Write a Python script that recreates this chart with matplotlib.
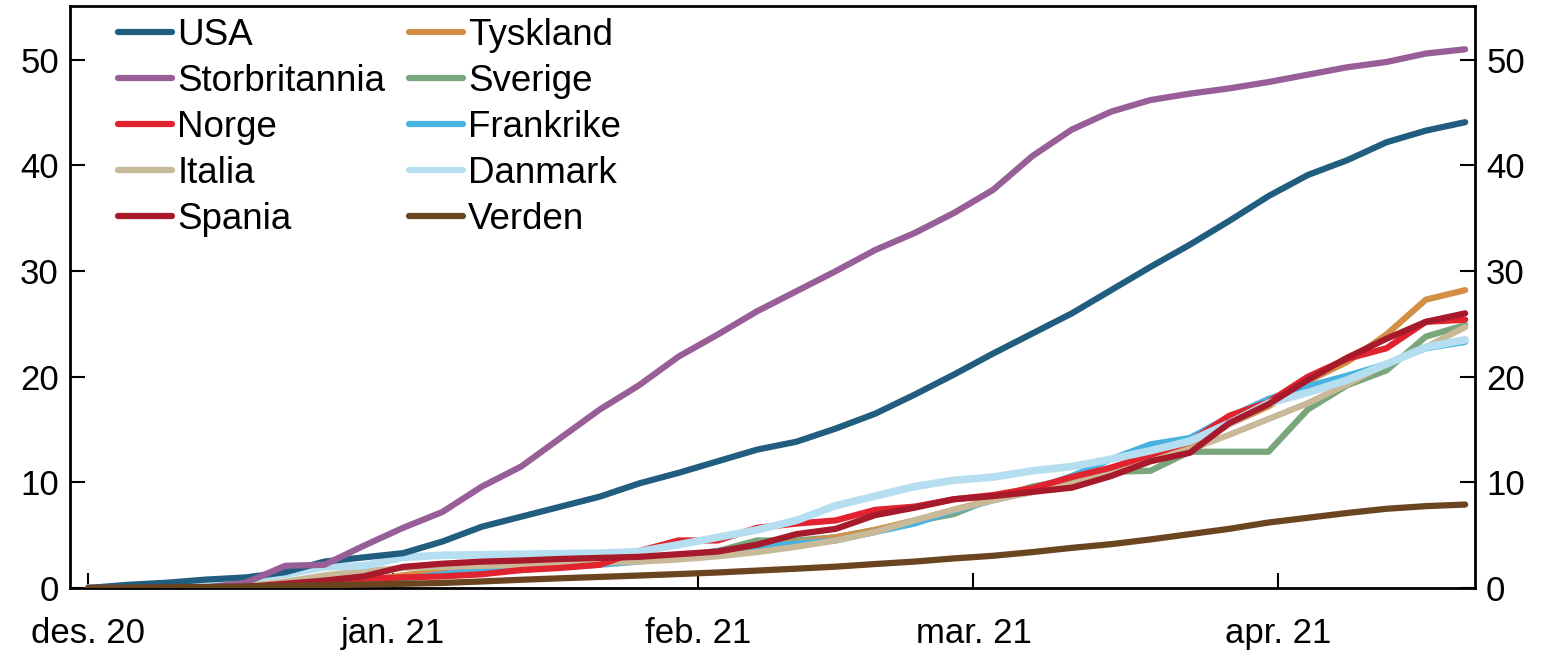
import matplotlib
matplotlib.use("Agg")
import matplotlib.pyplot as plt
import numpy as np
import pandas as pd

plt.rcParams['font.family'] = ['Liberation Sans', 'DejaVu Sans']

dates = pd.date_range("2020-12-01", "2021-04-20", freq="4D")

usa = [0, 0.3, 0.5, 0.8, 1.0, 1.5, 2.5, 2.9, 3.3, 4.4, 5.8, 6.75, 7.7, 8.65, 9.9, 10.9,
       12.0, 13.1, 13.85, 15.1, 16.5, 18.3, 20.2, 22.2, 24.1, 26.0, 28.2, 30.4, 32.5, 34.75,
       37.1, 39.1, 40.5, 42.2, 43.3, 44.1]
storbritannia = [0, 0, 0, 0.05, 0.5, 2.1, 2.2, 4.0, 5.7, 7.2, 9.6, 11.5, 14.2, 16.9, 19.2, 21.9,
                 24.0, 26.2, 28.1, 30.0, 32.0, 33.6, 35.5, 37.7, 40.9, 43.4, 45.1, 46.2, 46.8, 47.3,
                 47.9, 48.6, 49.3, 49.8, 50.6, 51.0]
norge = [0, 0, 0, 0, 0.05, 0.2, 0.5, 0.85, 1.0, 1.1, 1.3, 1.7, 1.9, 2.2, 3.5, 4.5,
         4.5, 5.7, 6.1, 6.4, 7.4, 7.7, 8.4, 8.8, 9.45, 10.5, 11.4, 12.6, 13.85, 16.3,
         17.6, 20.0, 21.7, 22.7, 25.2, 25.4]
italia = [0, 0, 0, 0.05, 0.2, 0.6, 1.2, 1.6, 1.9, 2.0, 2.1, 2.2, 2.3, 2.4, 2.5, 2.7,
          3.0, 3.4, 3.9, 4.5, 5.3, 6.4, 7.4, 8.3, 9.1, 9.9, 11.0, 12.2, 13.1, 14.5,
          16.0, 17.5, 19.3, 21.2, 22.8, 24.7]
spania = [0, 0, 0.02, 0.05, 0.1, 0.4, 0.7, 1.1, 2.0, 2.3, 2.5, 2.6, 2.75, 2.85, 2.95, 3.2,
          3.45, 4.1, 5.1, 5.6, 6.9, 7.6, 8.4, 8.7, 9.1, 9.5, 10.6, 12.0, 12.8, 15.6,
          17.4, 19.7, 21.8, 23.6, 25.2, 26.0]
tyskland = [0, 0, 0, 0, 0, 0.05, 0.3, 0.7, 1.2, 1.6, 1.9, 2.1, 2.3, 2.5, 2.7, 3.0,
            3.3, 3.8, 4.3, 4.8, 5.5, 6.4, 7.4, 8.4, 9.1, 9.9, 11.0, 12.2, 13.3, 15.5,
            17.2, 19.6, 21.4, 24.0, 27.3, 28.2]
sverige = [0, 0, 0, 0, 0.05, 0.2, 0.4, 0.7, 1.0, 1.3, 1.5, 1.7, 2.0, 2.3, 2.6, 3.0,
           3.5, 4.5, 4.5, 4.8, 5.5, 6.3, 7.0, 8.5, 9.6, 10.3, 11.0, 11.1, 12.9, 12.9,
           12.9, 16.9, 19.2, 20.6, 23.8, 24.9]
frankrike = [0, 0, 0, 0, 0, 0.05, 0.2, 0.5, 0.9, 1.3, 1.7, 1.85, 2.0, 2.2, 2.5, 3.0,
             3.5, 3.9, 4.2, 4.5, 5.3, 6.1, 7.3, 8.3, 9.3, 10.6, 12.2, 13.6, 14.2, 16.2,
             17.9, 19.1, 20.1, 21.2, 22.7, 23.3]
danmark = [0, 0.05, 0.2, 0.45, 0.85, 1.3, 2.0, 2.1, 2.9, 3.1, 3.15, 3.2, 3.25, 3.3, 3.45, 4.1,
           4.8, 5.5, 6.4, 7.8, 8.7, 9.6, 10.2, 10.5, 11.1, 11.5, 12.2, 13.0, 13.9, 15.6,
           17.5, 18.5, 19.7, 21.2, 22.8, 23.5]
verden = [0, 0.03, 0.06, 0.1, 0.15, 0.2, 0.27, 0.33, 0.4, 0.48, 0.62, 0.78, 0.92, 1.05, 1.18, 1.32,
          1.47, 1.65, 1.83, 2.02, 2.27, 2.5, 2.8, 3.05, 3.4, 3.8, 4.15, 4.6, 5.1, 5.6,
          6.2, 6.65, 7.1, 7.5, 7.75, 7.9]

tick_dates = pd.to_datetime(["2020-12-01", "2021-01-01", "2021-02-01", "2021-03-01", "2021-04-01"])
tick_labels = ["des. 20", "jan. 21", "feb. 21", "mar. 21", "apr. 21"]

series = {
    "USA": (usa, "#215d7f", 4.5),
    "Storbritannia": (storbritannia, "#985e98", 4.5),
    "Norge": (norge, "#e1232f", 4.5),
    "Italia": (italia, "#c8b998", 4.5),
    "Spania": (spania, "#a61a2c", 4.5),
    "Tyskland": (tyskland, "#d38f45", 4.5),
    "Sverige": (sverige, "#7aa67c", 4.5),
    "Frankrike": (frankrike, "#48b2e0", 4.5),
    "Danmark": (danmark, "#b5dff1", 5.5),
    "Verden": (verden, "#6b4520", 4.5),
}
zorders = {"Sverige": 2, "Tyskland": 3, "Frankrike": 4, "Italia": 5, "Norge": 6,
           "Danmark": 7, "USA": 8, "Storbritannia": 9, "Spania": 10, "Verden": 11}

fig = plt.figure(figsize=(15.57, 6.53), dpi=100)
ax = fig.add_axes([70/1557, 1-588/653, 1405/1557, 582/653])

handles = []
for name, (vals, col, lw) in series.items():
    h, = ax.plot(dates, vals, color=col, lw=lw, label=name, zorder=zorders[name],
                 solid_capstyle='round', solid_joinstyle='round')
    handles.append(h)

ax.set_ylim(0, 55.1)
ax.set_xlim(pd.Timestamp("2020-11-29 03:00"), pd.Timestamp("2021-04-21"))
ax.set_yticks([0, 10, 20, 30, 40, 50])
ax.set_xticks(tick_dates)
ax.set_xticklabels(tick_labels)

ax.tick_params(axis='y', which='both', direction='in', length=11, width=1.5,
               labelsize=25, pad=8, left=True, right=True, labelleft=True, labelright=True)
ax.tick_params(axis='x', direction='in', length=11, width=1.5, labelsize=25, pad=21)
for s in ax.spines.values():
    s.set_linewidth(2)

leg = ax.legend(handles=handles, ncol=2, loc='upper left', bbox_to_anchor=(0.024, 1.005),
                frameon=False, fontsize=26.5, handlelength=1.45, handletextpad=0.15,
                labelspacing=0.3, columnspacing=0.65, borderaxespad=0)
for lh in leg.get_lines():
    lh.set_linewidth(4.5)

fig.savefig("out.png", dpi=100)
